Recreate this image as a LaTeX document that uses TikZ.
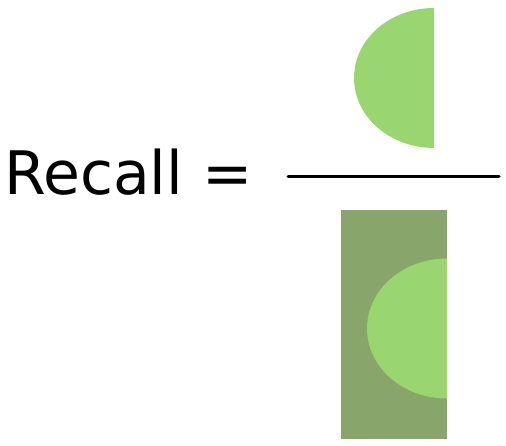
\documentclass[tikz,border=0pt]{standalone}
\usepackage{fontspec}
\setmainfont{DejaVu Sans}
\definecolor{hitgreen}{RGB}{154,214,112}
\definecolor{relgreen}{RGB}{136,166,108}
\tikzset{half/.style={fill=hitgreen}}

\begin{document}
\begin{tikzpicture}[x=1pt,y=1pt]
\useasboundingbox (0,0) rectangle (506,445);
\node[anchor=base west,inner sep=0pt,font=\fontsize{60}{60}\selectfont] (recall) at (4,250) {Recall =};
% numerator
\fill[half] (434,437) arc[start angle=90,end angle=270,x radius=80pt,y radius=70pt] -- cycle;
% fraction bar
\coordinate (barl) at (288,268);
\coordinate (barr) at (499,268);
\draw[line width=3pt,line cap=round] (barl) -- (barr);
% denominator
\fill[relgreen] (341,6) rectangle (447,235);
\fill[half] (447,186.5) arc[start angle=90,end angle=270,x radius=80pt,y radius=70pt] -- cycle;
\end{tikzpicture}
\end{document}
